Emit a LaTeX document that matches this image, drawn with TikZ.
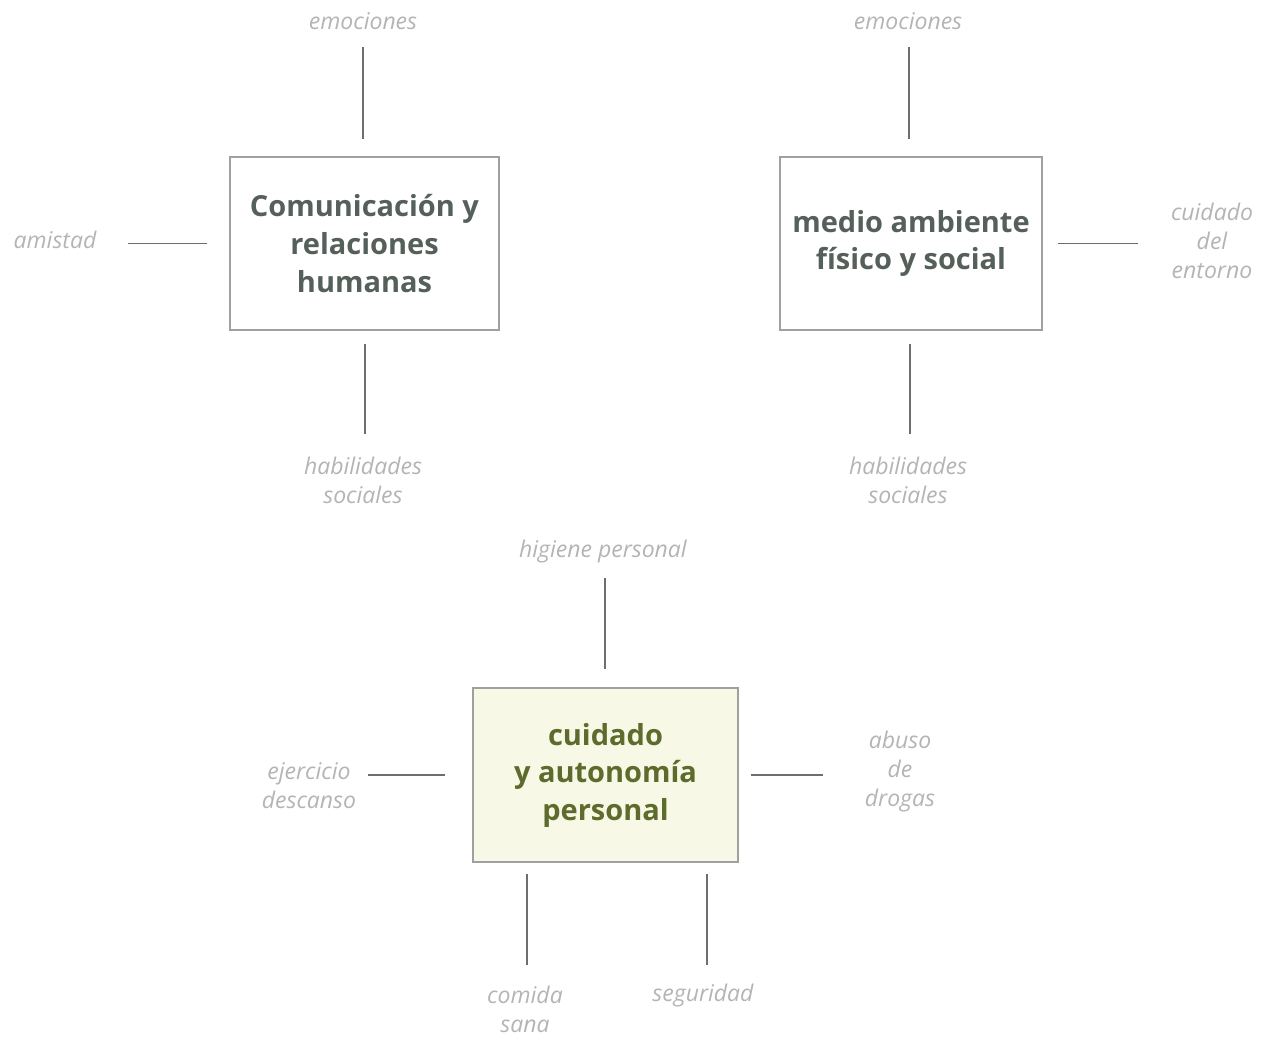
\documentclass[tikz,border=0pt]{standalone}
\usepackage{fontspec}
\setmainfont{Open Sans}
\definecolor{boxtxt}{HTML}{56605A}
\definecolor{oltxt}{HTML}{5D6B2C}
\definecolor{lbl}{HTML}{B4B4B4}
\definecolor{ln}{HTML}{6E6E6E}
\definecolor{bfill}{HTML}{F7F8E6}
\definecolor{bdr}{HTML}{A0A0A0}
\begin{document}
\begin{tikzpicture}[x=1pt,y=-1pt,
  topic/.style={draw=bdr,line width=1.2pt,align=center,inner sep=0pt,
    font=\bfseries\fontsize{29}{38}\selectfont,text=boxtxt},
  lab/.style={align=center,inner sep=0pt,text=lbl,
    font=\itshape\fontsize{23}{29}\selectfont},
  conn/.style={draw=ln,line width=1.3pt}]
\useasboundingbox (0,0) rectangle (1262,1037);
% boxes
\node[topic,minimum width=269pt,minimum height=173pt] (b1) at (364.5,243.5)
  {Comunicación y\\relaciones\\humanas};
\node[topic,minimum width=262pt,minimum height=173pt] (b2) at (911,243.5)
  {\raisebox{-3pt}{\begin{tabular}{@{}c@{}}medio ambiente\\[-0.4pt]físico y social\end{tabular}}};
\node[topic,fill=bfill,text=oltxt,minimum width=265pt,minimum height=174pt] (b3) at (605.5,775)
  {\raisebox{-2pt}{\begin{tabular}{@{}c@{}}cuidado\\[-0.4pt]y autonomía\\[-0.4pt]personal\end{tabular}}};
% labels
\node[lab] (l1) at (363,21) {emociones};
\node[lab] (l2) at (55,240) {amistad};
\node[lab] (l3) at (363,480) {habilidades\\sociales};
\node[lab] (l4) at (908,21) {emociones};
\node[lab] (l5) at (1212,241) {cuidado\\del\\entorno};
\node[lab] (l6) at (908,480) {habilidades\\sociales};
\node[lab] (l7) at (603,552) {higiene personal};
\node[lab] (l8) at (309,786) {ejercicio\\descanso};
\node[lab] (l9) at (900,772) {abuso\\de\\drogas};
\node[lab] (l10) at (525,1009) {comida\\sana};
\node[lab] (l11) at (703,996) {seguridad};
% connectors
\draw[conn,shorten <=17pt,shorten >=17pt] (b1.north -| 363,0) -- (l1);
\draw[conn,shorten <=22pt,shorten >=31pt] (b1.west) -- (b1.west -| l2.east);
\draw[conn,shorten <=13pt,shorten >=22pt] (b1.south -| 365,0) -- (365,0 |- l3.north);
\draw[conn,shorten <=17pt,shorten >=17pt] (b2.north -| 909,0) -- (909,0 |- l4.south);
\draw[conn,shorten <=15pt,shorten >=33pt] (b2.east) -- (b2.east -| l5.west);
\draw[conn,shorten <=13pt,shorten >=22pt] (b2.south -| 910,0) -- (910,0 |- l6.north);
\draw[conn,shorten <=18pt,shorten >=14pt] (b3.north -| 605,0) -- (605,0 |- l7.south);
\draw[conn,shorten <=27pt,shorten >=12pt] (b3.west |- 0,775) -- (l8.east |- 0,775);
\draw[conn,shorten <=12pt,shorten >=42pt] (b3.east |- 0,775) -- (l9.west |- 0,775);
\draw[conn,shorten <=11pt,shorten >=20pt] (b3.south -| 527,0) -- (527,0 |- l10.north);
\draw[conn,shorten <=11pt,shorten >=19pt] (b3.south -| 707,0) -- (707,0 |- l11.north);
\end{tikzpicture}
\end{document}
